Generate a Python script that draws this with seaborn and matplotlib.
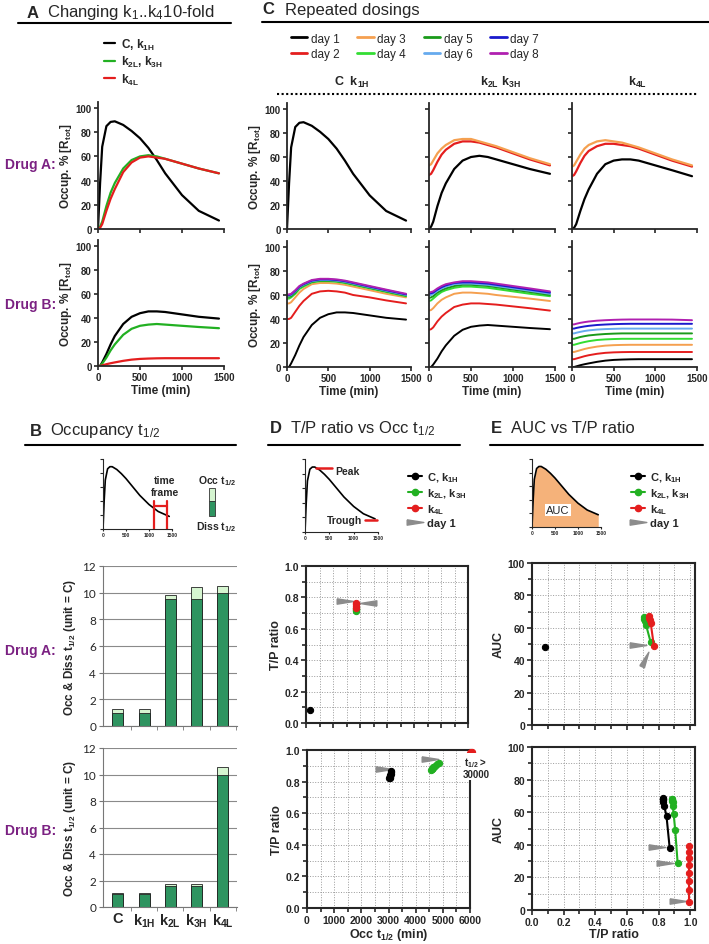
import numpy as np
import matplotlib
matplotlib.use('Agg')
import matplotlib.pyplot as plt
from matplotlib.lines import Line2D
from matplotlib.patches import Rectangle
from matplotlib.ticker import MultipleLocator, FixedLocator
import seaborn as sns

sns.set_style('ticks')
plt.rcParams['font.family'] = ['Liberation Sans', 'DejaVu Sans']
plt.rcParams['font.weight'] = 'bold'
plt.rcParams['axes.labelweight'] = 'bold'
plt.rcParams['mathtext.default'] = 'regular'

# ---------------- data ----------------
t = [0, 25, 50, 100, 150, 200, 300, 400, 500, 600, 700, 800, 1000, 1200, 1440]

# panel A, drug A
a_black = [0, 38, 68, 85, 88.5, 89, 86, 81, 75, 67, 57, 46, 28, 15, 7]
a_green = [0, 2, 6, 19, 30, 38, 50, 57, 60, 61, 60, 58, 54, 50, 46]
a_red = [0, 1, 4, 15, 25, 33, 47, 55, 59, 60, 59, 58, 54, 50, 46]
# panel A, drug B
b_black = [0, 0, 3, 10, 18, 25, 35, 41, 44, 45.5, 45.5, 45, 43, 41, 39.5]
b_green = [0, 0, 2, 7, 13, 18, 26, 31, 33.5, 34.5, 35, 34.5, 33.5, 32.5, 31.5]
b_red = [0, 0, 0.5, 1.5, 2.3, 3, 4.3, 5.3, 5.9, 6.2, 6.4, 6.5, 6.5, 6.5, 6.5]

# panel C, drug A (days 1-3 visible, later days coincide with day 3)
ca_k2 = [
    a_green,
    [45, 46, 49, 56, 62, 66, 71, 73, 73, 72, 70, 68, 63, 58, 53],
    [53, 54, 57, 63, 67, 70, 74, 75, 75, 73, 71, 69, 64, 59, 54],
]
ca_k4 = [
    [0, 1, 4, 15, 25, 33, 46, 54, 57, 58, 58, 57, 53, 49, 44],
    [44, 45, 48, 55, 61, 65, 69, 71, 71, 70, 69, 67, 62, 57, 52],
    [52, 53, 56, 62, 67, 70, 73, 74, 73, 72, 70, 68, 63, 58, 53],
]
# panel C, drug B (days 1-8)
cb_k1 = [
    b_black,
    [40, 40, 41, 46, 51, 55, 61, 63, 63.5, 63, 62, 60, 58, 55.5, 53],
    [53, 53, 54, 58, 62, 65, 69, 70, 70, 69.5, 68.5, 67, 64, 61, 58],
    [57, 57, 58, 61, 65, 67, 70.5, 71.5, 71.5, 71, 70, 68.5, 65.5, 62.5, 59],
    [58.5, 58.5, 59, 62, 66, 68, 71, 72, 72, 71.5, 70.5, 69, 66, 63, 59.5],
    [59.5, 59.5, 60, 63, 66.5, 68.5, 71.5, 72.5, 72.5, 72, 71, 69.5, 66.5, 63.5, 60],
    [60, 60, 60.5, 63.5, 67, 69, 72, 73, 73, 72.5, 71.5, 70, 67, 64, 60.5],
    [60.5, 60.5, 61, 64, 67.5, 69.5, 72.5, 73.5, 73.5, 73, 72, 70.5, 67.5, 64.5, 61],
]
cb_k2 = [
    b_green,
    [31, 31.5, 33, 38, 42, 45, 50, 52, 53, 53, 52.5, 52, 50.5, 49, 47],
    [47, 47.5, 49, 53, 56, 58, 61, 62, 62, 61.5, 61, 60, 58.5, 57, 55],
    [55, 55.5, 57, 60, 62.5, 64, 66, 67, 67, 66.5, 66, 65, 63, 61, 59],
    [57.5, 58, 59, 62, 64, 65.5, 67.5, 68.5, 68.5, 68, 67.5, 66.5, 64.5, 62.5, 60],
    [59.5, 60, 61, 63.5, 65.5, 67, 69, 69.5, 69.5, 69, 68.5, 67.5, 65.5, 63.5, 61],
    [61, 61.5, 62, 64.5, 66.5, 68, 70, 70.5, 70.5, 70, 69.5, 68.5, 66.5, 64.5, 62],
    [62, 62.5, 63, 65.5, 67.5, 69, 70.5, 71.5, 71.5, 71, 70.5, 69.5, 67.5, 65.5, 63],
]
cb_k4 = [
    b_red,
    [6.5, 6.5, 7, 8, 9, 9.8, 11, 11.8, 12.2, 12.4, 12.5, 12.5, 12.5, 12.5, 12.5],
    [12.5, 12.5, 13, 14, 15, 15.8, 17, 17.8, 18.2, 18.4, 18.5, 18.5, 18.5, 18.5, 18.5],
    [18.5, 18.5, 19, 20, 20.8, 21.5, 22.5, 23, 23.3, 23.5, 23.5, 23.5, 23.5, 23.5, 23.5],
    [23.5, 23.5, 24, 25, 25.7, 26.3, 27, 27.5, 27.8, 28, 28, 28, 28, 28, 28],
    [28, 28, 28.5, 29.3, 30, 30.5, 31.2, 31.6, 31.8, 32, 32, 32, 32, 32, 32],
    [32, 32, 32.5, 33.2, 33.8, 34.3, 35, 35.4, 35.7, 35.9, 36, 36, 36, 36, 36],
    [35.5, 35.5, 36, 36.8, 37.4, 37.9, 38.6, 39, 39.3, 39.5, 39.6, 39.6, 39.6, 39.5, 39],
]
sketch = [0, 40, 70, 86, 89, 89, 85, 79, 72, 64, 56, 48, 35, 25, 18]

# panel B bars
bar_cats = ['C', 'k$_{1H}$', 'k$_{2L}$', 'k$_{3H}$', 'k$_{4L}$']
occ_a = [1.3, 1.3, 9.85, 10.4, 10.5]
diss_a = [1.0, 1.0, 9.5, 9.5, 10.0]
occ_b = [1.05, 1.05, 1.7, 1.75, 10.6]
diss_b = [1.0, 1.0, 1.6, 1.6, 10.0]

# panel D: Occ t1/2 (min) vs T/P ratio
da_black_x, da_black_y = [150], [0.08]
da_green_x, da_green_y = [1850, 1850, 1850, 1850], [0.715, 0.72, 0.725, 0.73]
da_red_x, da_red_y = [1850, 1850, 1850, 1850], [0.735, 0.745, 0.755, 0.765]
db_black_x = [3110, 3100, 3085, 3070, 3060, 3050, 3040, 3030]
db_black_y = [0.87, 0.86, 0.85, 0.843, 0.836, 0.83, 0.825, 0.82]
db_green_x = [4850, 4780, 4700, 4650, 4620, 4600, 4590, 4580]
db_green_y = [0.92, 0.91, 0.90, 0.89, 0.885, 0.88, 0.878, 0.875]
db_red_x, db_red_y = [6000, 6040, 6080], [0.98, 0.985, 0.985]

# panel E: T/P ratio vs AUC
ea_black_x, ea_black_y = [0.08], [48]
ea_green_x = [0.75, 0.72, 0.715, 0.71, 0.71]
ea_green_y = [51, 62, 64, 65.5, 66.5]
ea_red_x = [0.77, 0.75, 0.745, 0.74, 0.74]
ea_red_y = [49, 63, 65, 66, 67]
eb_black_x = [0.87, 0.85, 0.835, 0.83, 0.825, 0.825, 0.825, 0.825]
eb_black_y = [38, 57.5, 64, 66.5, 67.5, 68, 68.3, 68.5]
eb_green_x = [0.92, 0.905, 0.895, 0.89, 0.888, 0.886, 0.885, 0.885]
eb_green_y = [29, 49, 59, 63.5, 66, 67, 67.8, 68.3]
eb_red_x = [0.99] * 8
eb_red_y = [5, 12, 17.5, 22.5, 27.5, 32, 35.5, 39]

# ---------------- style ----------------
BLACK, GREEN, RED = '#000000', '#22b022', '#e41e1e'
day_colors = ['#000000', '#e41e1e', '#f5a050', '#33dd33', '#1a9a1a', '#66aaee', '#1a1acc', '#b020b0']
day_labels = ['day %d' % (i + 1) for i in range(8)]
PURPLE = '#7b2182'
GRAY = '#8c8c8c'
W, H = 709, 945

fig = plt.figure(figsize=(W / 100, H / 100), dpi=100, facecolor='white')


def rect(x0, x1, ytop, ybot):
    return [x0 / W, 1 - ybot / H, (x1 - x0) / W, (ybot - ytop) / H]


def ftext(x, y, s, **kw):
    return fig.text(x / W, 1 - y / H, s, **kw)


def hline(x0, x1, y, **kw):
    fig.add_artist(Line2D([x0 / W, x1 / W], [1 - y / H, 1 - y / H], transform=fig.transFigure, **kw))


def curve_ax(x0, x1, y0, y100, xlab=False, ylab=True):
    ytop = y0 - (y0 - y100) * 1.05
    ax = fig.add_axes(rect(x0, x1, ytop, y0))
    ax.set_xlim(0, 1500)
    ax.set_ylim(0, 105)
    ax.set_xticks([0, 500, 1000, 1500])
    ax.set_yticks(range(0, 101, 20))
    ax.tick_params(labelsize=7, length=3, width=1.2, pad=1.5)
    for s in ['left', 'bottom']:
        ax.spines[s].set_linewidth(1.3)
    sns.despine(ax=ax)
    if xlab:
        ax.set_xlabel('Time (min)', fontsize=8.5, labelpad=1)
    else:
        ax.set_xticklabels([])
    if ylab:
        ax.set_ylabel('Occup. % [R$_{tot}$]', fontsize=8.5, labelpad=1)
    else:
        ax.set_yticklabels([])
    return ax


def draw(ax, ys, color, lw=1.6):
    sns.lineplot(x=t, y=ys, ax=ax, color=color, lw=lw, legend=False)


def header(letter, text, x, y, x0, x1, ly):
    ftext(x, y, letter, fontsize=12, weight='bold', va='center')
    ftext(x + 20, y, text, fontsize=12, weight='normal', va='center')
    hline(x0, x1, ly, color='black', lw=1.5)


# ---------------- panel A ----------------
header('A', 'Changing k$_1$..k$_4$10-fold', 27, 13, 18, 231, 24)
axA1 = curve_ax(98, 224, 230, 109)
for ys, c in [(a_black, BLACK), (a_green, GREEN), (a_red, RED)]:
    draw(axA1, ys, c)
axA2 = curve_ax(98, 224, 367, 247, xlab=True)
for ys, c in [(b_black, BLACK), (b_green, GREEN), (b_red, RED)]:
    draw(axA2, ys, c)
legA = [Line2D([], [], color=c, lw=1.6) for c in [BLACK, GREEN, RED]]
fig.legend(legA, ['C, k$_{1H}$', 'k$_{2L}$, k$_{3H}$', 'k$_{4L}$'], loc='upper left',
           bbox_to_anchor=(93 / W, 1 - 27 / H), frameon=False, handlelength=1.0,
           handletextpad=0.5, labelspacing=0.2, prop={'size': 8.5, 'weight': 'bold'})
ftext(5, 165, 'Drug A:', color=PURPLE, fontsize=10, weight='bold', va='center')
ftext(5, 305, 'Drug B:', color=PURPLE, fontsize=10, weight='bold', va='center')

# ---------------- panel C ----------------
ftext(262, 10, 'C', fontsize=12, weight='bold', va='center')
ftext(285, 10, 'Repeated dosings', fontsize=12, weight='normal', va='center')
hline(262, 709, 23, color='black', lw=1.5)
legC = [Line2D([], [], color=c, lw=2) for c in day_colors]
fig.legend(legC, day_labels, loc='upper left', ncol=4, bbox_to_anchor=(280 / W, 1 - 23 / H),
           frameon=False, handlelength=1.4, handletextpad=0.3, columnspacing=1.5,
           labelspacing=0.3, prop={'size': 8.5, 'weight': 'normal'})
ftext(352, 82, 'C  k$_{1H}$', fontsize=9, weight='bold', ha='center', va='center')
ftext(500, 82, 'k$_{2L}$ k$_{3H}$', fontsize=9, weight='bold', ha='center', va='center')
ftext(638, 82, 'k$_{4L}$', fontsize=9, weight='bold', ha='center', va='center')
hline(277, 697, 95, color='black', lw=1.5, ls=(0, (1, 1.2)))

cols = [(287, 411), (429, 555), (572, 697)]
top_sets = [[a_black], ca_k2, ca_k4]
bot_sets = [cb_k1, cb_k2, cb_k4]
for i, (x0, x1) in enumerate(cols):
    ax = curve_ax(x0, x1, 230, 110, ylab=(i == 0))
    for d, ys in enumerate(top_sets[i]):
        draw(ax, ys, day_colors[d])
    ax = curve_ax(x0, x1, 368, 248, xlab=True, ylab=(i == 0))
    for d, ys in enumerate(bot_sets[i]):
        draw(ax, ys, day_colors[d], lw=1.4)


# ---------------- insets ----------------
def inset(x0, x1, ytop, ybot):
    ax = fig.add_axes(rect(x0, x1, ytop, ybot))
    ax.set_xlim(0, 1500)
    ax.set_ylim(0, 100)
    ax.set_xticks([0, 500, 1000, 1500])
    ax.set_yticks(range(0, 101, 20))
    ax.set_yticklabels([])
    ax.tick_params(axis='x', labelsize=3.5, length=1.5, pad=1)
    ax.tick_params(axis='y', length=2)
    sns.despine(ax=ax)
    return ax


# ---------------- panel B ----------------
header('B', 'Occupancy t$_{1/2}$', 30, 431, 25, 236, 446)
axBi = inset(103, 172, 460, 530)
draw(axBi, sketch, BLACK, lw=1.2)
for xs, ys in [([1100, 1100], [0, 40]), ([1400, 1400], [0, 40]), ([1100, 1400], [33, 33])]:
    axBi.plot(xs, ys, color=RED, lw=1.6, clip_on=False)
ftext(165, 481, 'time', fontsize=7.5, ha='center', va='center')
ftext(165, 493, 'frame', fontsize=7.5, ha='center', va='center')
fig.add_artist(Rectangle((209 / W, 1 - 502 / H), 6 / W, 13 / H, transform=fig.transFigure,
                         facecolor='#d5f5d0', edgecolor='#333333', lw=0.6))
fig.add_artist(Rectangle((209 / W, 1 - 517 / H), 6 / W, 15 / H, transform=fig.transFigure,
                         facecolor='#2e9460', edgecolor='#333333', lw=0.6))
ftext(217, 481, 'Occ t$_{1/2}$', fontsize=7.5, ha='center', va='center')
ftext(216, 527, 'Diss t$_{1/2}$', fontsize=7.5, ha='center', va='center')


def bar_ax(ytop, ybot, occ, diss, labels):
    ax = fig.add_axes(rect(103, 237, ytop, ybot))
    sns.barplot(x=bar_cats, y=occ, color='#d5f5d0', width=0.42, edgecolor='#222222',
                linewidth=0.6, ax=ax, saturation=1)
    sns.barplot(x=bar_cats, y=diss, color='#2e9460', width=0.42, edgecolor='#222222',
                linewidth=0.6, ax=ax, saturation=1)
    ax.set_xlim(-0.57, 4.55)
    ax.set_ylim(0, 12)
    ax.set_yticks(range(0, 13, 2))
    ax.yaxis.grid(True, color='#8a8a8a', lw=0.8)
    ax.set_axisbelow(True)
    sns.despine(ax=ax, right=True, top=True)
    for s in ['left', 'bottom']:
        ax.spines[s].set_color('#777777')
        ax.spines[s].set_linewidth(0.8)
    ax.xaxis.set_minor_locator(FixedLocator([0.5, 1.5, 2.5, 3.5, 4.5]))
    ax.tick_params(axis='x', which='major', length=0, labelsize=10.5, pad=3)
    ax.tick_params(axis='x', which='minor', length=3, color='#777777')
    ax.tick_params(axis='y', length=3, color='#777777', labelsize=8.5, pad=2)
    for lab in ax.get_yticklabels():
        lab.set_fontweight('normal')
        lab.set_family('Lato')
    if not labels:
        ax.set_xticklabels([])
    ax.set_ylabel('Occ & Diss t$_{1/2}$ (unit = C)', fontsize=8.5, labelpad=3)
    return ax


bar_ax(567, 727, occ_a, diss_a, False)
bar_ax(749, 908, occ_b, diss_b, True)
ftext(5, 651, 'Drug A:', color=PURPLE, fontsize=10, weight='bold', va='center')
ftext(5, 831, 'Drug B:', color=PURPLE, fontsize=10, weight='bold', va='center')


# ---------------- shared marker shapes ----------------
def tri(angle_deg):
    a = np.deg2rad(angle_deg)
    base = np.array([[-1, 0.32], [1, 0], [-1, -0.32], [-1, 0.32]])
    rot = np.array([[np.cos(a), -np.sin(a)], [np.sin(a), np.cos(a)]])
    return base @ rot.T


def arrow(ax, x, y, angle):
    ax.plot([x], [y], ls='none', marker=tri(angle), ms=12, color=GRAY, mec=GRAY, zorder=4)


def series(ax, xs, ys, color, clip=True):
    sns.lineplot(x=xs, y=ys, ax=ax, color=color, sort=False, estimator=None, lw=1.5,
                 marker='o', ms=4.5, mec=color, legend=False, clip_on=clip, zorder=5)


def scatter_ax(x0, x1, ytop, ybot, xlim, ylim, xmaj, xmin, ymaj, ymin, xlabels):
    ax = fig.add_axes(rect(x0, x1, ytop, ybot))
    ax.set_xlim(*xlim)
    ax.set_ylim(*ylim)
    ax.xaxis.set_major_locator(MultipleLocator(xmaj))
    ax.xaxis.set_minor_locator(MultipleLocator(xmin))
    ax.yaxis.set_major_locator(MultipleLocator(ymaj))
    ax.yaxis.set_minor_locator(MultipleLocator(ymin))
    ax.grid(True, which='both', ls=':', color='#9a9a9a', lw=0.7)
    ax.set_axisbelow(True)
    for s in ax.spines.values():
        s.set_linewidth(1.5)
    ax.tick_params(which='major', length=3.5, width=1.2, labelsize=7.5, pad=1.5)
    ax.tick_params(which='minor', length=3, width=1.2)
    if not xlabels:
        ax.set_xticklabels([])
    return ax


def legend_dots(x, y):
    hs = [Line2D([], [], color=c, lw=1.5, marker='o', ms=4.5) for c in [BLACK, GREEN, RED]]
    hs.append(Line2D([], [], ls='none', marker=tri(0), ms=12, color=GRAY))
    fig.legend(hs, ['C, k$_{1H}$', 'k$_{2L}$, k$_{3H}$', 'k$_{4L}$', 'day 1'], loc='upper left',
               bbox_to_anchor=(x / W, 1 - y / H), frameon=False, handlelength=1.3,
               handletextpad=0.4, labelspacing=0.22, prop={'size': 8, 'weight': 'bold'})


# ---------------- panel D ----------------
header('D', 'T/P ratio vs Occ t$_{1/2}$', 270, 429, 268, 460, 446)
axDi = inset(305, 378, 460, 533)
draw(axDi, sketch, BLACK, lw=1.2)
axDi.plot([230, 560], [88, 88], color=RED, lw=1.8)
axDi.plot([1230, 1480], [17, 17], color=RED, lw=1.8, clip_on=False)
ftext(335, 472, 'Peak', fontsize=7.5, va='center')
ftext(362, 521, 'Trough', fontsize=7.5, va='center', ha='right')
legend_dots(398, 461)

axD1 = scatter_ax(306, 468, 567, 724, (0, 6000), (0, 1), 1000, 500, 0.2, 0.1, False)
series(axD1, da_black_x, da_black_y, BLACK)
series(axD1, da_green_x, da_green_y, GREEN)
series(axD1, da_red_x, da_red_y, RED)
arrow(axD1, 1450, 0.775, 0)
arrow(axD1, 2300, 0.765, 180)
axD1.set_ylabel('T/P ratio', fontsize=9, labelpad=2)

axD2 = scatter_ax(307, 470, 751, 909, (0, 6000), (0, 1), 1000, 500, 0.2, 0.1, True)
series(axD2, db_black_x, db_black_y, BLACK)
series(axD2, db_green_x, db_green_y, GREEN)
series(axD2, db_red_x, db_red_y, RED, clip=False)
arrow(axD2, 2830, 0.88, 0)
arrow(axD2, 4530, 0.945, 0)
axD2.set_ylabel('T/P ratio', fontsize=9, labelpad=2)
axD2.set_xlabel('Occ t$_{1/2}$ (min)', fontsize=9, labelpad=1)
ftext(476, 768, 't$_{1/2}$ >\n30000', fontsize=7, ha='center', va='center', linespacing=1.0,
      bbox=dict(facecolor='white', edgecolor='none', pad=0.5), zorder=10)

# ---------------- panel E ----------------
header('E', 'AUC vs T/P ratio', 491, 429, 490, 703, 446)
axEi = inset(532, 601, 460, 528)
axEi.fill_between(t, sketch, color='#f5b27a', lw=0)
draw(axEi, sketch, BLACK, lw=1.2)
ftext(558, 511, 'AUC', fontsize=8, weight='normal', ha='center', va='center',
      bbox=dict(facecolor='white', edgecolor='none', pad=1))
legend_dots(621, 461)

axE1 = scatter_ax(532, 695, 564, 726, (0, 1.03), (0, 100), 0.2, 0.1, 20, 10, False)
series(axE1, ea_black_x, ea_black_y, BLACK)
series(axE1, ea_green_x, ea_green_y, GREEN)
series(axE1, ea_red_x, ea_red_y, RED)
arrow(axE1, 0.67, 49.5, 0)
arrow(axE1, 0.715, 41, 65)
axE1.set_ylabel('AUC', fontsize=9, labelpad=2)

axE2 = scatter_ax(532, 695, 748, 911, (0, 1.03), (0, 100), 0.2, 0.1, 20, 10, True)
series(axE2, eb_black_x, eb_black_y, BLACK)
series(axE2, eb_green_x, eb_green_y, GREEN)
series(axE2, eb_red_x, eb_red_y, RED)
arrow(axE2, 0.79, 38.6, 0)
arrow(axE2, 0.84, 29, 0)
arrow(axE2, 0.925, 5.5, 0)
axE2.set_ylabel('AUC', fontsize=9, labelpad=2)
axE2.set_xlabel('T/P ratio', fontsize=9, labelpad=1)

fig.savefig('out.png', dpi=100, facecolor='white')
